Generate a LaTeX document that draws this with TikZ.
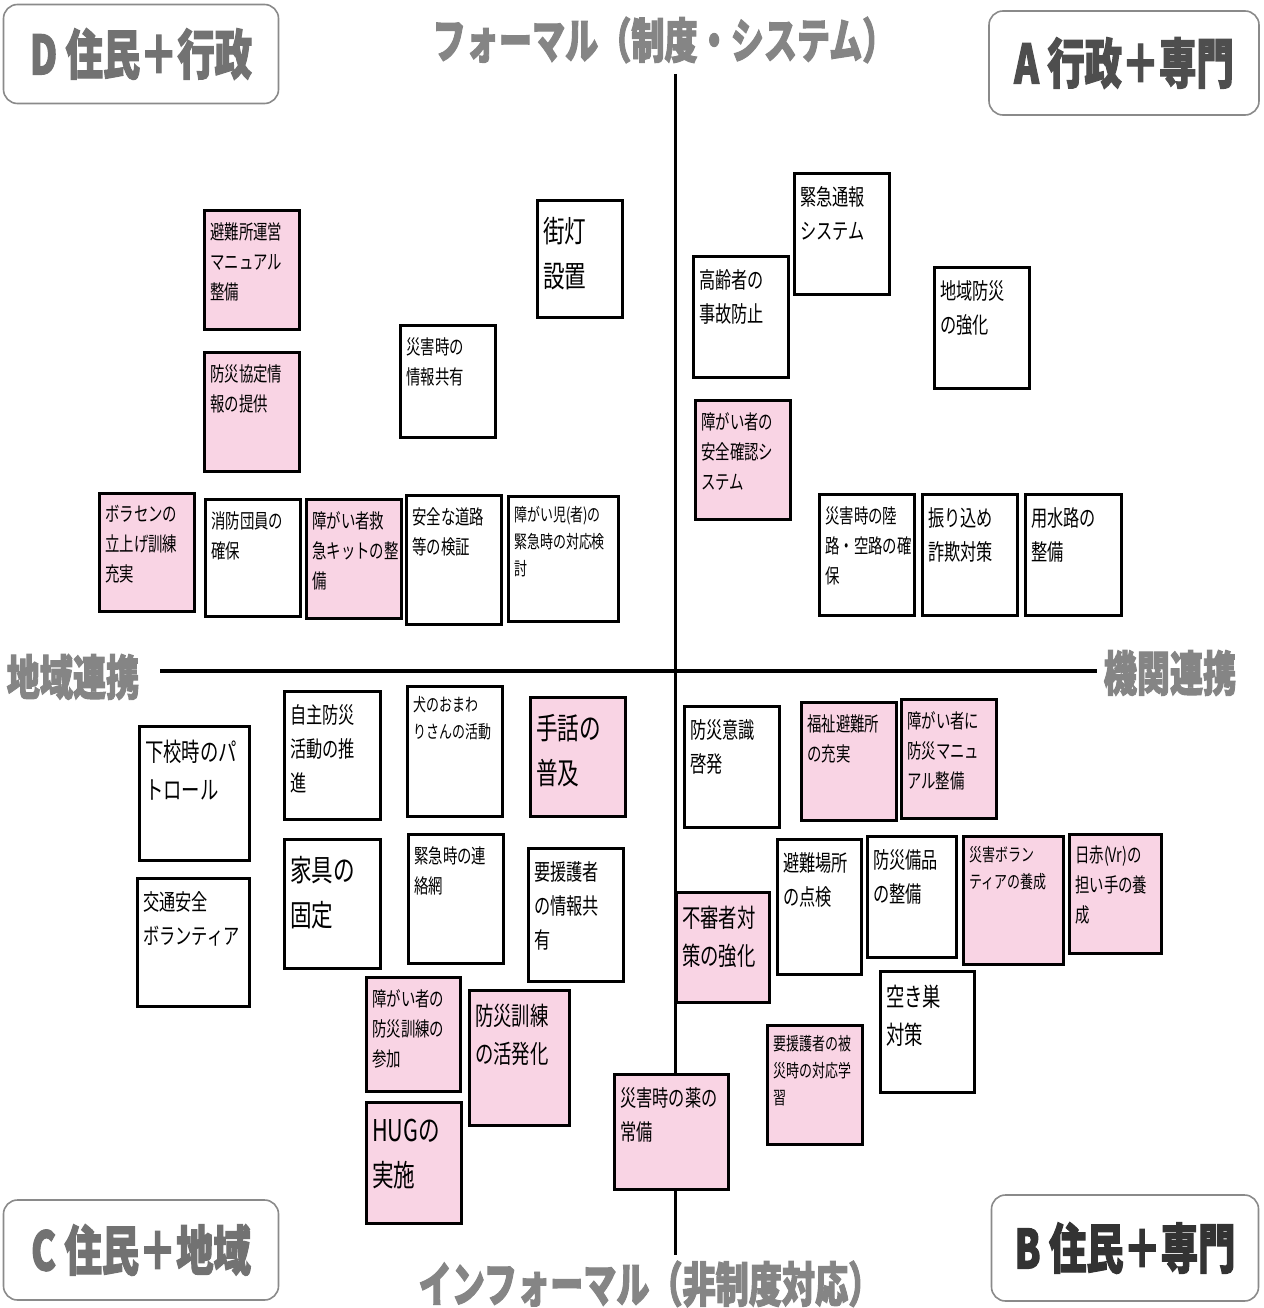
\documentclass[tikz,border=0pt]{standalone}
\usepackage{fontspec}
\newfontfamily\cardfont{Noto Sans CJK JP}[FakeStretch=0.72]
\newfontfamily\headfont{Noto Sans CJK JP}[FakeStretch=0.69, BoldFeatures={FakeBold=2}]
\definecolor{cardpink}{HTML}{F9D4E4}
\definecolor{axisgray}{HTML}{858585}
\definecolor{framegray}{HTML}{8A8A8A}
\definecolor{dgray}{HTML}{727272}
\definecolor{agray}{HTML}{4E4E4E}
\definecolor{bgray}{HTML}{333333}

\begin{document}
\begin{tikzpicture}[x=1pt, y=-1pt,
	card/.style={draw=black, line width=2.6pt, fill=white, anchor=north west, inner sep=0pt},
	pinkcard/.style={card, fill=cardpink},
	sz/.style 2 args={minimum width=#1pt, minimum height=#2pt},
	tx/.style={anchor=north west, align=left, inner xsep=7pt, inner ysep=12pt, text=black},
	fa/.style={tx, inner ysep=11pt, font={\cardfont\fontsize{18pt}{27pt}\selectfont}},
	fb/.style={tx, inner ysep=13pt, font={\cardfont\fontsize{20pt}{30pt}\selectfont}},
	fc/.style={tx, inner ysep=14pt, font={\cardfont\fontsize{22.5pt}{34pt}\selectfont}},
	fd/.style={tx, inner ysep=15pt, font={\cardfont\fontsize{25.5pt}{38pt}\selectfont}},
	fe/.style={tx, inner ysep=18pt, font={\cardfont\fontsize{30pt}{45pt}\selectfont}},
	head/.style={inner sep=0pt, font={\headfont\bfseries\fontsize{48pt}{48pt}\selectfont}},
	corner/.style={draw=framegray, line width=1.6pt, rounded corners=14pt, fill=white,
		inner sep=0pt, font={\headfont\bfseries\fontsize{54pt}{54pt}\selectfont}}]
			\useasboundingbox (0, 0) rectangle (1263, 1308);
			% axes
			\coordinate (ytop) at (675, 74);
			\coordinate (ybot) at (675, 1255);
			\coordinate (xleft) at (160, 671);
			\coordinate (xright) at (1097, 671);
			\path[draw, line width=3pt] (ytop) -- (ybot);
			\path[draw, line width=3.6pt] (xleft) -- (xright);
			\draw (664, 40) node [head, text=axisgray] (formal) {フォーマル（制度・システム）};
			\draw (650, 1284) node [head, text=axisgray] (informal) {インフォーマル（非制度対応）};
			\draw (73, 677) node [head, text=axisgray] (chiiki) {地域連携};
			\draw (1170, 673) node [head, text=axisgray] (kikan) {機関連携};
			% corners
			\draw (141, 54) node [corner, sz={275}{99}, text=dgray] (quadD) {D 住民＋行政};
			\draw (1124, 63) node [corner, sz={270}{104}, text=agray] (quadA) {A 行政＋専門};
			\draw (141, 1250) node [corner, sz={275}{100}, text=dgray] (quadC) {C 住民＋地域};
			\draw (1125, 1248) node [corner, sz={267}{106}, text=bgray] (quadB) {B 住民＋専門};
			% D
			\draw (203, 209) node [pinkcard, sz={95}{119}, label={[fb]north west:避難所運営\\マニュアル\\整備}] (hinanjo) {};
			\draw (203, 351) node [pinkcard, sz={95}{119}, label={[fb]north west:防災協定情\\報の提供}] (kyotei) {};
			\draw (536, 199) node [card, sz={85}{117}, label={[fe]north west:街灯\\設置}] (gaito) {};
			\draw (399, 324) node [card, sz={95}{112}, label={[fb]north west:災害時の\\情報共有}] (johokyoyu) {};
			\draw (98, 492) node [pinkcard, sz={95}{118}, label={[fb]north west:ボラセンの\\立上げ訓練\\充実}] (borasen) {};
			\draw (204, 498) node [card, sz={95}{117}, label={[fb]north west:消防団員の\\確保}] (shobodan) {};
			\draw (305, 498) node [pinkcard, sz={95}{119}, label={[fb]north west:障がい者救\\急キットの整\\備}] (kyukyu) {};
			\draw (405, 494) node [card, sz={95}{129}, label={[fb]north west:安全な道路\\等の検証}] (doro) {};
			\draw (507, 495) node [card, sz={110}{125}, label={[fa]north west:障がい児(者)の\\緊急時の対応検\\討}] (shogaiji) {};
			% A
			\draw (692, 255) node [card, sz={95}{121}, label={[fc]north west:高齢者の\\事故防止}] (koreisha) {};
			\draw (793, 172) node [card, sz={95}{121}, label={[fc]north west:緊急通報\\システム}] (tsuho) {};
			\draw (933, 266) node [card, sz={95}{121}, label={[fc]north west:地域防災\\の強化}] (chiikibosai) {};
			\draw (694, 399) node [pinkcard, sz={95}{119}, label={[fb]north west:障がい者の\\安全確認シ\\ステム}] (anzen) {};
			\draw (818, 493) node [card, sz={95}{121}, label={[fb]north west:災害時の陸\\路・空路の確\\保}] (rikuro) {};
			\draw (921, 493) node [card, sz={95}{121}, label={[fc]north west:振り込め\\詐欺対策}] (furikome) {};
			\draw (1024, 493) node [card, sz={96}{121}, label={[fc]north west:用水路の\\整備}] (yosuiro) {};
			% C
			\draw (138, 725) node [card, sz={110}{134}, label={[fd]north west:下校時のパ\\トロール}] (gekou) {};
			\draw (136, 877) node [card, sz={112}{128}, label={[fc]north west:交通安全\\ボランティア}] (kotsu) {};
			\draw (283, 690) node [card, sz={96}{128}, label={[fc]north west:自主防災\\活動の推\\進}] (jishu) {};
			\draw (283, 838) node [card, sz={96}{129}, label={[fe]north west:家具の\\固定}] (kagu) {};
			\draw (406, 685) node [card, sz={95}{130}, label={[fa]north west:犬のおまわ\\りさんの活動}] (inu) {};
			\draw (407, 833) node [card, sz={95}{129}, label={[fb]north west:緊急時の連\\絡網}] (renraku) {};
			\draw (529, 696) node [pinkcard, sz={95}{119}, label={[fe]north west:手話の\\普及}] (shuwa) {};
			\draw (527, 847) node [card, sz={95}{133}, label={[fc]north west:要援護者\\の情報共\\有}] (yoengo) {};
			\draw (365, 976) node [pinkcard, sz={94}{114}, label={[fb]north west:障がい者の\\防災訓練の\\参加}] (sanka) {};
			\draw (365, 1101) node [pinkcard, sz={95}{121}, label={[fe]north west:HUGの\\実施}] (hug) {};
			\draw (468, 989) node [pinkcard, sz={100}{135}, label={[fd]north west:防災訓練\\の活発化}] (kappatsu) {};
			\draw (613, 1073) node [pinkcard, sz={114}{115}, label={[fc]north west:災害時の薬の\\常備}] (kusuri) {};
			% B
			\draw (683, 705) node [card, sz={95}{121}, label={[fc]north west:防災意識\\啓発}] (ishiki) {};
			\draw (800, 701) node [pinkcard, sz={95}{118}, label={[fb]north west:福祉避難所\\の充実}] (fukushi) {};
			\draw (900, 698) node [pinkcard, sz={95}{119}, label={[fb]north west:障がい者に\\防災マニュ\\アル整備}] (manual) {};
			\draw (776, 838) node [card, sz={84}{135}, label={[fc]north west:避難場所\\の点検}] (tenken) {};
			\draw (866, 835) node [card, sz={89}{121}, label={[fc]north west:防災備品\\の整備}] (bihin) {};
			\draw (962, 835) node [pinkcard, sz={100}{128}, label={[fa]north west:災害ボラン\\ティアの養成}] (volunteer) {};
			\draw (1068, 833) node [pinkcard, sz={92}{119}, label={[fb]north west:日赤(Vr)の\\担い手の養\\成}] (nisseki) {};
			\draw (675, 891) node [pinkcard, sz={93}{110}, label={[fd]north west:不審者対\\策の強化}] (fushinsha) {};
			\draw (879, 970) node [card, sz={94}{121}, label={[fd]north west:空き巣\\対策}] (akisu) {};
			\draw (766, 1024) node [pinkcard, sz={95}{119}, label={[fa]north west:要援護者の被\\災時の対応学\\習}] (gakushu) {};
		\end{tikzpicture}
\end{document}
